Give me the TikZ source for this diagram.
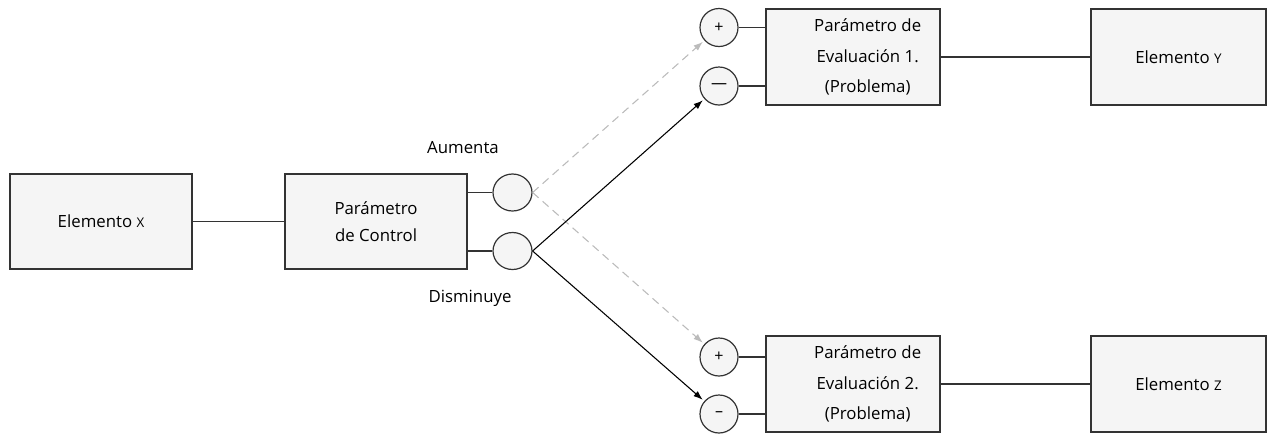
\documentclass[tikz,border=0pt]{standalone}
\usepackage{fontspec}
\setmainfont{Open Sans}
\usetikzlibrary{arrows.meta,shapes.geometric}
\definecolor{boxfill}{HTML}{F5F5F5}
\definecolor{boxline}{HTML}{333333}
\definecolor{dashgray}{HTML}{BBBBBB}
\tikzset{
  caja/.style={draw=boxline, fill=boxfill, line width=1.1pt, minimum width=136.5pt, minimum height=71.25pt, align=center, font=\fontsize{12.6}{20}\selectfont},
  cajaeval/.style={caja, minimum width=130.5pt, minimum height=72pt},
  texteval/.style={align=center, font=\fontsize{12.6}{23}\selectfont, xshift=11pt},
  signo/.style={circle, draw=boxline, fill=boxfill, line width=0.9pt, minimum size=28.5pt, inner sep=0pt, font=\fontsize{12}{12}\selectfont},
  salida/.style={ellipse, draw=boxline, fill=boxfill, line width=0.9pt, minimum width=29.25pt, minimum height=27.75pt, inner sep=0pt},
  enlace/.style={draw=boxline, line width=1.1pt},
  flechasi/.style={-{Latex[length=7pt,width=5pt]}, dashgray, dash pattern=on 6pt off 4pt, line width=0.8pt, shorten >=1.5pt},
  flechano/.style={-{Latex[length=7pt,width=5pt]}, black, line width=0.8pt, shorten >=1.5pt},
  etiqueta/.style={font=\fontsize{12.6}{14}\selectfont}
}
\newcommand{\letra}[1]{{\fontsize{10}{12}\selectfont #1}}

\begin{document}
\begin{tikzpicture}[x=0.75pt, y=-0.75pt]
		%%%%% START %%%%%
		\useasboundingbox (0, 0) rectangle (1267, 433);
		
		\node[caja] (elemx) at (101, 221.5) {Elemento \letra{X}};
		\node[caja] (ctrl) at (376, 221.5) {Parámetro\\de Control};
		
		\node[salida] (upc) at (512.5, 192.5) {};
		\node[salida] (dnc) at (512.5, 251) {};
		\node[etiqueta] (aumenta) at (463, 148) {Aumenta};
		\node[etiqueta] (disminuye) at (470, 298) {Disminuye};
		
		\node[cajaeval, label={[texteval]center:Parámetro de\\Evaluación 1.\\(Problema)}] (eval1) at (853, 57) {};
		\node[cajaeval, label={[texteval]center:Parámetro de\\Evaluación 2.\\(Problema)}] (eval2) at (853, 384) {};
		\node[caja, minimum width=131.25pt, minimum height=72pt] (elemy) at (1178.5, 57) {Elemento \letra{Y}};
		\node[caja, minimum width=131.25pt, minimum height=72pt] (elemz) at (1178.5, 384) {Elemento \letra{Z}};
		
		\node[signo] (p1) at (719, 27.5) {+};
		\node[signo] (m1) at (719, 86) {—};
		\node[signo] (p2) at (719, 357) {+};
		\node[signo] (m2) at (719, 414) {–};
		
		\draw[enlace] (elemx) -- (ctrl);
		\draw[enlace] (ctrl.east |- upc) -- (upc);
		\draw[enlace] (ctrl.east |- dnc) -- (dnc);
		
		\draw[flechasi] (upc.east) -- (p1);
		\draw[flechasi] (upc.east) -- (p2);
		\draw[flechano] (dnc.east) -- (m1);
		\draw[flechano] (dnc.east) -- (m2);
		
		\draw[enlace] (p1) -- (eval1.west |- p1);
		\draw[enlace] (m1) -- (eval1.west |- m1);
		\draw[enlace] (p2) -- (eval2.west |- p2);
		\draw[enlace] (m2) -- (eval2.west |- m2);
		\draw[enlace] (eval1) -- (elemy);
		\draw[enlace] (eval2) -- (elemz);
		
		%%%%% END %%%%%
	\end{tikzpicture}
\end{document}
